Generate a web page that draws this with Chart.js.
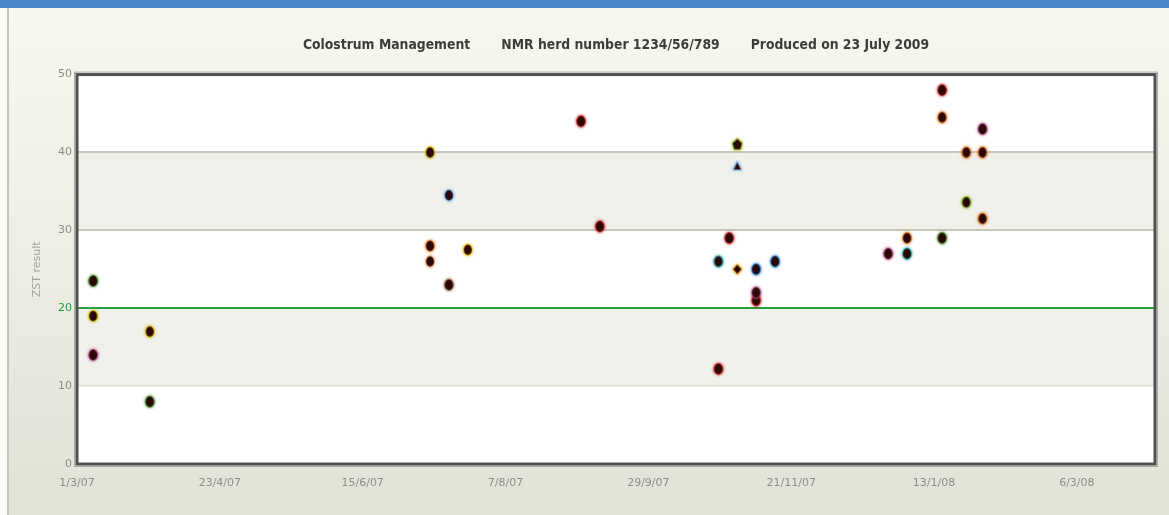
<!DOCTYPE html>
<html>
<head>
<meta charset="utf-8">
<script src="https://cdn.jsdelivr.net/npm/chart.js@4.4.0/dist/chart.umd.min.js"></script>
<style>
  html, body { margin: 0; padding: 0; background: #eef0e6; }
  #wrap { width: 1169px; height: 515px; }
</style>
</head>
<body>
<div id="wrap"><canvas id="zstChart" width="1169" height="515"></canvas></div>
<script>
// ---- data ----
const sampleDates = [
  "2007-03-07", "2007-03-07", "2007-03-07", "2007-03-28", "2007-03-28",
  "2007-07-10", "2007-07-10", "2007-07-10", "2007-07-17", "2007-07-17",
  "2007-07-24", "2007-09-04", "2007-09-11", "2007-10-25", "2007-10-25",
  "2007-10-29", "2007-11-01", "2007-11-01", "2007-11-01", "2007-11-08",
  "2007-11-08", "2007-11-08", "2007-11-15", "2007-12-27", "2008-01-03",
  "2008-01-03", "2008-01-16", "2008-01-16", "2008-01-16", "2008-01-25",
  "2008-01-25", "2008-01-31", "2008-01-31", "2008-01-31"
];
const zstResults = [
  23.5, 19, 14, 17, 8,
  40, 28, 26, 34.5, 23,
  27.5, 44, 30.5, 26, 12.2,
  29, 41, 38.2, 25, 25,
  22, 21, 26, 27, 29,
  27, 48, 44.5, 29, 40,
  33.6, 43, 40, 31.5
];
// group of each sample (decides the marker colour)
const sampleGroups = [
  0, 1, 2, 1, 0,
  1, 4, 5, 6, 7,
  8, 9, 9, 10, 9,
  9, 12, 13, 14, 11,
  2, 9, 11, 2, 4,
  10, 9, 4, 0, 4,
  3, 2, 4, 4
];
const tickDates = ["2007-03-01", "2007-04-23", "2007-06-15", "2007-08-07",
                   "2007-09-29", "2007-11-21", "2008-01-13", "2008-03-06"];
const axisStart = "2007-03-01";
const axisEnd = "2008-04-04";
const yTicks = [0, 10, 20, 30, 40, 50];
const targetZst = 20;
const titleText = "Colostrum Management\u2003\u2003\u2002NMR herd number 1234/56/789\u2003\u2003\u2002Produced on 23 July 2009";

// ---- helpers ----
const DAY = 86400000;
const dayOf = (iso) => (Date.parse(iso) - Date.parse(axisStart)) / DAY;
function fmtDay(v) {
  const d = new Date(Date.parse(axisStart) + v * DAY);
  return d.getUTCDate() + "/" + (d.getUTCMonth() + 1) + "/" + String(d.getUTCFullYear()).slice(2);
}

const groupStyles = [
  { halo: "#3d7a22" }, { halo: "#d2b400" }, { halo: "#a0407a" }, { halo: "#8ab020" },
  { halo: "#e8781e" }, { halo: "#f0a870" }, { halo: "#6fb0e8" }, { halo: "#8a5a3a" },
  { halo: "#f0b800" }, { halo: "#c81e1e" }, { halo: "#149c9c" }, { halo: "#1f78d0" },
  { halo: "#9cc21a", shape: "pentagon" }, { halo: "#7ab6e6", shape: "triangle" },
  { halo: "#f0b020", shape: "diamond" }
];

function makeMarker(halo, shape) {
  const c = document.createElement("canvas");
  c.width = 18; c.height = 20;
  const g = c.getContext("2d");
  g.beginPath();
  if (shape === "triangle") {
    g.moveTo(9, 6); g.lineTo(12.5, 13); g.lineTo(5.5, 13); g.closePath();
  } else if (shape === "diamond") {
    g.moveTo(9, 5.5); g.lineTo(13, 10); g.lineTo(9, 14.5); g.lineTo(5, 10); g.closePath();
  } else if (shape === "pentagon") {
    g.moveTo(9, 4.5); g.lineTo(13.5, 8.5); g.lineTo(12, 14.5); g.lineTo(6, 14.5); g.lineTo(4.5, 8.5); g.closePath();
  } else {
    g.ellipse(9, 10, 3.9, 5.1, 0, 0, Math.PI * 2);
  }
  g.shadowColor = halo;
  g.shadowBlur = 3;
  g.strokeStyle = halo;
  g.lineWidth = 1.7;
  g.stroke();
  g.fillStyle = "#2a0806";
  g.fill();
  return c;
}

const datasets = groupStyles.map((s, gi) => ({
  label: "Group " + (gi + 1),
  data: sampleDates
    .map((d, i) => ({ x: dayOf(d), y: zstResults[i], g: sampleGroups[i] }))
    .filter(p => p.g === gi),
  pointStyle: makeMarker(s.halo, s.shape),
  pointRadius: 5,
  showLine: false
}));

const backdrop = {
  id: "backdrop",
  afterLayout(chart) {
    // centre the title over the plot rather than the whole canvas
    if (chart.titleBlock) {
      chart.titleBlock.left = chart.chartArea.left;
      chart.titleBlock.right = chart.chartArea.right;
    }
  },
  beforeDraw(chart) {
    const { ctx, width, height, chartArea: a, scales } = chart;
    ctx.save();
    const bg = ctx.createLinearGradient(0, 0, 0, height);
    bg.addColorStop(0, "#f8f8f1");
    bg.addColorStop(1, "#e1e3d7");
    ctx.fillStyle = bg;
    ctx.fillRect(0, 0, width, height);
    ctx.fillStyle = "#4a89c8";
    ctx.fillRect(0, 0, width, 8);
    ctx.fillStyle = "#fbfbf7";
    ctx.fillRect(0, 8, 7, height);
    ctx.fillStyle = "#c4c5bc";
    ctx.fillRect(7, 8, 2, height);
    ctx.fillStyle = "#ffffff";
    ctx.fillRect(a.left, a.top, a.width, a.height);
    ctx.fillStyle = "#eff1ea";
    const y = scales.y;
    [[10, 20], [30, 40]].forEach(([lo, hi]) => {
      const t = y.getPixelForValue(hi), b = y.getPixelForValue(lo);
      ctx.fillRect(a.left, t, a.width, b - t);
    });
    ctx.restore();
  },
  beforeDatasetsDraw(chart) {
    const { ctx, chartArea: a } = chart;
    ctx.save();
    ctx.strokeStyle = "#a8a8a0";
    ctx.lineWidth = 1;
    ctx.strokeRect(a.left - 2.5, a.top - 2.5, a.width + 5, a.height + 5);
    ctx.strokeStyle = "#505050";
    ctx.lineWidth = 3;
    ctx.strokeRect(a.left, a.top, a.width, a.height);
    ctx.restore();
  }
};

new Chart(document.getElementById("zstChart"), {
  type: "scatter",
  data: { datasets },
  plugins: [backdrop],
  options: {
    responsive: false,
    animation: false,
    layout: { padding: { left: 31, right: 14, top: 2, bottom: 0 } },
    plugins: {
      legend: { display: false },
      tooltip: { enabled: false },
      title: {
        display: true,
        text: titleText,
        color: "#3c3c3c",
        font: { family: "'Liberation Sans Narrow', 'DejaVu Sans Condensed', sans-serif", size: 13.8, weight: "bold" },
        padding: { top: 35, bottom: 21 }
      }
    },
    scales: {
      x: {
        type: "linear",
        min: dayOf(axisStart),
        max: dayOf(axisEnd),
        afterBuildTicks: (scale) => { scale.ticks = tickDates.map(d => ({ value: dayOf(d) })); },
        afterFit: (scale) => { scale.height = 51; },
        grid: { display: false, drawTicks: false },
        border: { display: false },
        ticks: {
          autoSkip: false,
          maxRotation: 0,
          padding: 13,
          color: "#8c8c8c",
          font: { family: "'DejaVu Sans', sans-serif", size: 11 },
          callback: (v) => fmtDay(v)
        }
      },
      y: {
        min: yTicks[0],
        max: yTicks[yTicks.length - 1],
        afterBuildTicks: (scale) => { scale.ticks = yTicks.map(v => ({ value: v })); },
        afterFit: (scale) => { scale.width = 46; },
        border: { display: false },
        title: {
          display: true,
          text: "ZST result",
          color: "#a4a4a4",
          padding: 0,
          font: { family: "'DejaVu Sans', sans-serif", size: 11 }
        },
        grid: {
          drawTicks: false,
          color: (c) => c.tick.value === targetZst ? "#26a040"
            : (c.tick.value === 0 || c.tick.value === 50) ? "rgba(0,0,0,0)"
            : c.tick.value === 10 ? "#dddcd4" : "#c6c6bb",
          lineWidth: (c) => c.tick.value === 10 ? 1.5 : 2
        },
        ticks: {
          padding: 5,
          color: (c) => c.tick.value === targetZst ? "#1f9e3a" : "#8c8c8c",
          font: { family: "'DejaVu Sans', sans-serif", size: 11 }
        }
      }
    }
  }
});
</script>
</body>
</html>
